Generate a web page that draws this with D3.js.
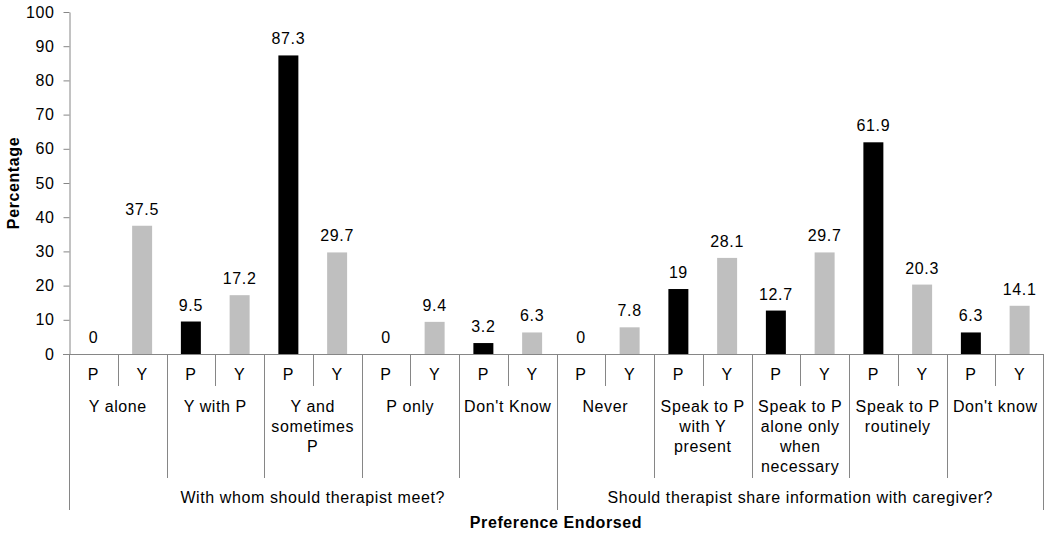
<!DOCTYPE html>
<html>
<head>
<meta charset="utf-8">
<script src="https://cdn.jsdelivr.net/npm/d3@7"></script>
<style>
  html, body { margin: 0; padding: 0; background: #fff; }
  svg { display: block; }
  text { font-family: Arial, "Liberation Sans", sans-serif; fill: #000; letter-spacing: 0.6px; }
</style>
</head>
<body>
<svg id="chart" width="1050" height="534"></svg>
<script>
const categories = ["Y alone", "Y with P", "Y and|sometimes|P", "P only", "Don't Know",
  "Never", "Speak to P|with Y|present", "Speak to P|alone only|when|necessary", "Speak to P|routinely", "Don't know"];
const seriesNames = ["P", "Y"];
const pValues = [0, 9.5, 87.3, 0, 3.2, 0, 19, 12.7, 61.9, 6.3];
const yValues = [37.5, 17.2, 29.7, 9.4, 6.3, 7.8, 28.1, 29.7, 20.3, 14.1];
const superGroups = ["With whom should therapist meet?", "Should therapist share information with caregiver?"];
const superGroupSizes = [5, 5];
const yTicks = [0, 10, 20, 30, 40, 50, 60, 70, 80, 90, 100];
const yTitle = "Percentage";
const xTitle = "Preference Endorsed";

(function () {
const svg = d3.select("#chart");
const mLeft = 69, mRight = 1044, mTop = 12, mBottom = 354;
const axisColor = "#868686";
const colors = { P: "#000000", Y: "#bfbfbf" };
const fs = 16;
const ff = "Arial, 'Liberation Sans', sans-serif";

const slots = [];
categories.forEach((c, i) => seriesNames.forEach(s => slots.push(i + "-" + s)));
const x = d3.scaleBand().domain(slots).range([mLeft, mRight]).paddingInner(0).paddingOuter(0);
const y = d3.scaleLinear().domain([0, 100]).range([mBottom, mTop]);
const bw = x.bandwidth();
const barW = bw * 0.41;

// Y axis
const yAxis = d3.axisLeft(y).tickValues(yTicks).tickSize(6).tickSizeOuter(0).tickPadding(9);
const gy = svg.append("g").attr("transform", `translate(${mLeft + 0.5},0)`).call(yAxis)
  .attr("font-size", fs).attr("font-family", ff);
gy.select(".domain").attr("stroke", axisColor);
gy.selectAll(".tick line").attr("stroke", axisColor);
gy.selectAll(".tick text").attr("fill", "#000");

// bars
const data = [];
categories.forEach((c, i) => {
  data.push({ key: i + "-P", s: "P", v: pValues[i] });
  data.push({ key: i + "-Y", s: "Y", v: yValues[i] });
});
svg.append("g").selectAll("rect").data(data).join("rect")
  .attr("x", d => x(d.key) + (bw - barW) / 2)
  .attr("width", barW)
  .attr("y", d => y(d.v))
  .attr("height", d => y(0) - y(d.v))
  .attr("fill", d => colors[d.s]);

svg.append("g").selectAll("text").data(data).join("text")
  .attr("x", d => x(d.key) + bw / 2)
  .attr("y", d => y(d.v) - 11)
  .attr("text-anchor", "middle")
  .attr("font-size", fs)
  .text(d => d.v);

// horizontal axis line
const axisG = svg.append("g").attr("stroke", axisColor).attr("stroke-width", 1);
axisG.append("line").attr("x1", mLeft - 6).attr("x2", mRight).attr("y1", mBottom + 0.5).attr("y2", mBottom + 0.5);

// P/Y dividers
categories.forEach((c, i) => {
  const xy = x(i + "-Y");
  axisG.append("line").attr("x1", Math.round(xy) + 0.5).attr("x2", Math.round(xy) + 0.5)
    .attr("y1", mBottom).attr("y2", 386);
});
svg.append("g").selectAll("text").data(data).join("text")
  .attr("x", d => x(d.key) + bw / 2)
  .attr("y", 374)
  .attr("dy", "0.35em")
  .attr("text-anchor", "middle")
  .attr("font-size", fs)
  .text(d => d.s);

// category dividers and labels
let idx = 0;
const boundaries = [0];
superGroupSizes.forEach(n => { idx += n; boundaries.push(idx); });
categories.forEach((c, i) => {
  const xs = x(i + "-P");
  const isOuter = boundaries.includes(i);
  axisG.append("line").attr("x1", Math.round(xs) + 0.5).attr("x2", Math.round(xs) + 0.5)
    .attr("y1", mBottom).attr("y2", isOuter ? 510 : 478);
  const cx = xs + bw;
  const lines = c.split("|");
  const t = svg.append("text").attr("text-anchor", "middle").attr("font-size", fs);
  lines.forEach((ln, k) => {
    t.append("tspan").attr("x", cx).attr("y", 406 + k * 20).attr("dy", "0.35em").text(ln);
  });
});
axisG.append("line").attr("x1", mRight - 0.5).attr("x2", mRight - 0.5).attr("y1", mBottom).attr("y2", 510);

// super group labels
let start = 0;
superGroups.forEach((g, gi) => {
  const n = superGroupSizes[gi];
  const x0 = x(start + "-P");
  const x1 = x((start + n - 1) + "-Y") + bw;
  svg.append("text").attr("x", (x0 + x1) / 2).attr("y", 497).attr("dy", "0.35em")
    .attr("text-anchor", "middle").attr("font-size", fs).text(g);
  start += n;
});

// titles
svg.append("text").attr("x", (mLeft + mRight) / 2 - 0.5).attr("y", 522).attr("dy", "0.35em")
  .attr("text-anchor", "middle").attr("font-size", fs).attr("font-weight", "bold").text(xTitle);
svg.append("text").attr("transform", `translate(13,${(mTop + mBottom) / 2}) rotate(-90)`)
  .attr("dy", "0.35em").attr("text-anchor", "middle").attr("font-size", fs).attr("font-weight", "bold").text(yTitle);
})();
</script>
</body>
</html>
